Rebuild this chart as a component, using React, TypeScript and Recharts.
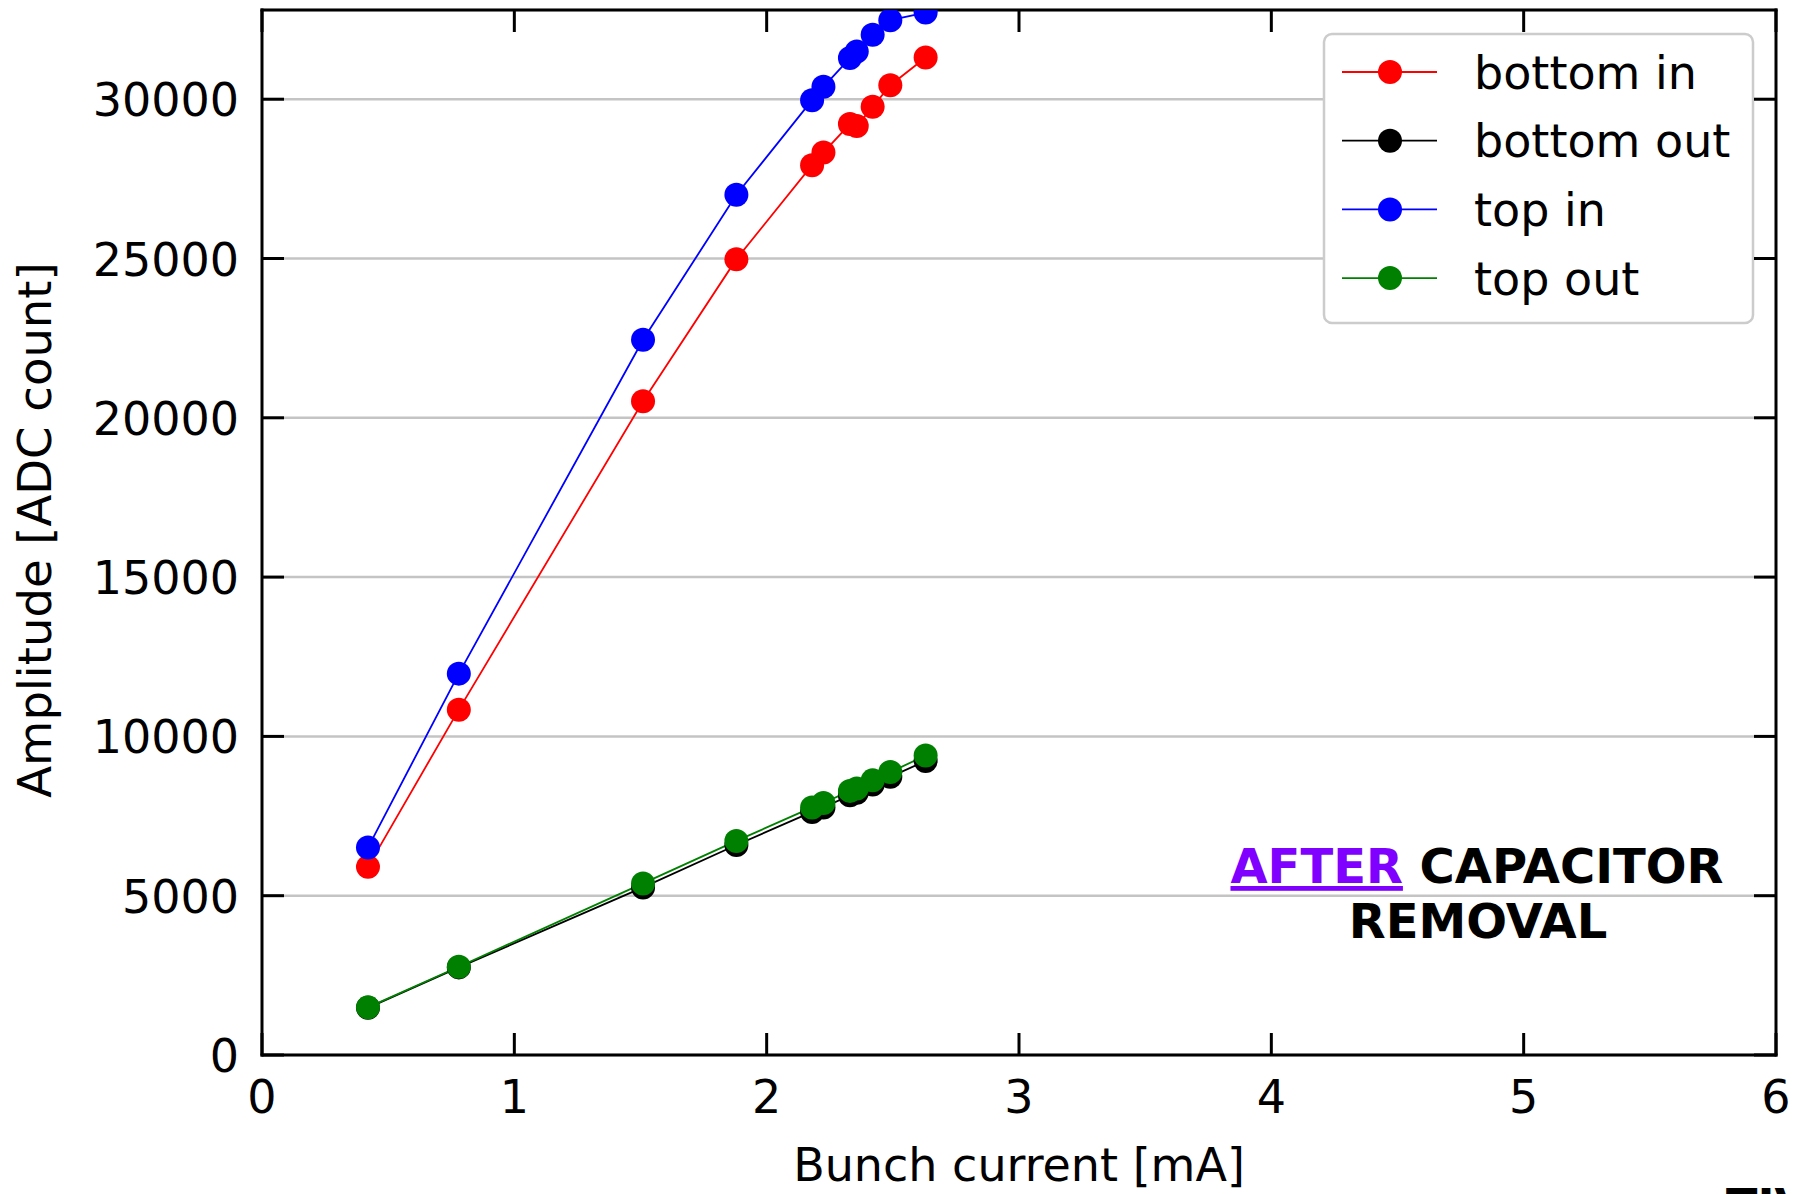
import React from "react";
import {
  LineChart,
  Line,
  XAxis,
  YAxis,
  CartesianGrid,
  Customized,
} from "recharts";

// ---- data ----
const BUNCH_CURRENT = [0.42, 0.78, 1.51, 1.88, 2.18, 2.225, 2.33, 2.357, 2.42, 2.49, 2.63];
const BOTTOM_IN = [5905, 10840, 20520, 24980, 27930, 28330, 29220, 29160, 29760, 30440, 31310];
const BOTTOM_OUT = [1480, 2750, 5260, 6590, 7630, 7770, 8150, 8230, 8490, 8730, 9230];
const TOP_IN = [6510, 11970, 22450, 27000, 29970, 30390, 31290, 31500, 32020, 32480, 32720];
const TOP_OUT = [1495, 2770, 5385, 6720, 7770, 7910, 8290, 8365, 8620, 8880, 9400];

const X_TICKS = [0, 1, 2, 3, 4, 5, 6];
const Y_TICKS = [0, 5000, 10000, 15000, 20000, 25000, 30000];
const X_DOMAIN = [0, 6];
const Y_DOMAIN = [0, 32800];

const SERIES = [
  { key: "bottomIn", name: "bottom in", color: "#ff0000" },
  { key: "bottomOut", name: "bottom out", color: "#000000" },
  { key: "topIn", name: "top in", color: "#0000ff" },
  { key: "topOut", name: "top out", color: "#008000" },
];

const rows = BUNCH_CURRENT.map((x, i) => ({
  x,
  bottomIn: BOTTOM_IN[i],
  bottomOut: BOTTOM_OUT[i],
  topIn: TOP_IN[i],
  topOut: TOP_OUT[i],
}));

const FONT = "DejaVu Sans";
const TICK_LEN = 22;

const LeftTick = (props: any) => {
  const { x, y, payload } = props;
  return (
    <g>
      <line x1={x} y1={y} x2={x + TICK_LEN} y2={y} stroke="#000" strokeWidth={3} />
      <text x={x - 23} y={y} dy={17} textAnchor="end" fontSize={46} fontFamily={FONT} fill="#000">
        {payload.value}
      </text>
    </g>
  );
};

const RightTick = (props: any) => {
  const { x, y } = props;
  return <line x1={x} y1={y} x2={x - TICK_LEN} y2={y} stroke="#000" strokeWidth={3} />;
};

const BottomTick = (props: any) => {
  const { x, y, payload } = props;
  return (
    <g>
      <line x1={x} y1={y} x2={x} y2={y - TICK_LEN} stroke="#000" strokeWidth={3} />
      <text x={x} y={y} dy={58} textAnchor="middle" fontSize={46} fontFamily={FONT} fill="#000">
        {payload.value}
      </text>
    </g>
  );
};

const TopTick = (props: any) => {
  const { x, y } = props;
  return <line x1={x} y1={y} x2={x} y2={y + TICK_LEN} stroke="#000" strokeWidth={3} />;
};

const Overlay = () => {
  const lx = 1324;
  const ly = 34;
  return (
    <g>
      {/* axis titles */}
      <text
        x={51}
        y={530}
        transform="rotate(-90, 51, 530)"
        textAnchor="middle"
        fontSize={46.5}
        fontFamily={FONT}
        fill="#000"
      >
        Amplitude [ADC count]
      </text>
      <text x={1019} y={1181} textAnchor="middle" fontSize={46} fontFamily={FONT} fill="#000">
        Bunch current [mA]
      </text>

      {/* annotation */}
      <text x={1477} y={883} textAnchor="middle" fontSize={48} fontWeight="bold" fontFamily={FONT}>
        <tspan fill="#7f00ff" textDecoration="underline" style={{ textDecoration: "underline" }}>
          AFTER
        </tspan>
        <tspan fill="#000"> CAPACITOR</tspan>
      </text>
      <text x={1478} y={938} textAnchor="middle" fontSize={48} fontWeight="bold" fontFamily={FONT} fill="#000">
        REMOVAL
      </text>

      {/* text cut off at the bottom edge, as in the reference */}
      <text x={1726} y={1222} fontSize={46} fontWeight="bold" fontFamily={FONT} fill="#000">
        TIV
      </text>

      {/* legend */}
      <rect
        x={lx}
        y={ly}
        width={429}
        height={289}
        rx={8}
        ry={8}
        fill="#ffffff"
        stroke="#cccccc"
        strokeWidth={2.5}
      />
      {SERIES.map((s, i) => {
        const cy = ly + 38 + i * 68.7;
        return (
          <g key={s.key}>
            <line x1={lx + 18} y1={cy} x2={lx + 113} y2={cy} stroke={s.color} strokeWidth={1.8} />
            <circle cx={lx + 66} cy={cy} r={12} fill={s.color} />
            <text x={lx + 150} y={cy + 16.5} fontSize={46} fontFamily={FONT} fill="#000">
              {s.name}
            </text>
          </g>
        );
      })}
    </g>
  );
};

export default function App() {
  return (
    <div style={{ position: "absolute", left: 0, top: 0, width: 1794, height: 1194, background: "#fff" }}>
      <LineChart
        width={1794}
        height={1194}
        data={rows}
        margin={{ top: 0, right: 0, bottom: 0, left: 0 }}
      >
        <CartesianGrid
          xAxisId="bottom"
          yAxisId="left"
          vertical={false}
          stroke="#c4c4c4"
          strokeWidth={2.5}
        />
        <XAxis
          xAxisId="bottom"
          dataKey="x"
          type="number"
          domain={X_DOMAIN}
          ticks={X_TICKS}
          interval={0}
          height={139}
          tickSize={0}
          tickMargin={0}
          tickLine={false}
          tick={<BottomTick />}
          axisLine={{ stroke: "#000", strokeWidth: 3, strokeLinecap: "square" }}
          allowDataOverflow
        />
        <XAxis
          xAxisId="top"
          orientation="top"
          dataKey="x"
          type="number"
          domain={X_DOMAIN}
          ticks={X_TICKS}
          interval={0}
          height={10}
          tickSize={0}
          tickMargin={0}
          tickLine={false}
          tick={<TopTick />}
          axisLine={{ stroke: "#000", strokeWidth: 3, strokeLinecap: "square" }}
          allowDataOverflow
        />
        <YAxis
          yAxisId="left"
          type="number"
          domain={Y_DOMAIN}
          ticks={Y_TICKS}
          interval={0}
          width={262}
          tickSize={0}
          tickMargin={0}
          tickLine={false}
          tick={<LeftTick />}
          axisLine={{ stroke: "#000", strokeWidth: 3, strokeLinecap: "square" }}
          allowDataOverflow
        />
        <YAxis
          yAxisId="right"
          orientation="right"
          type="number"
          domain={Y_DOMAIN}
          ticks={Y_TICKS}
          interval={0}
          width={18}
          tickSize={0}
          tickMargin={0}
          tickLine={false}
          tick={<RightTick />}
          axisLine={{ stroke: "#000", strokeWidth: 3, strokeLinecap: "square" }}
          allowDataOverflow
        />
        {SERIES.map((s) => (
          <Line
            key={s.key}
            xAxisId="bottom"
            yAxisId="left"
            type="linear"
            dataKey={s.key}
            name={s.name}
            stroke={s.color}
            strokeWidth={1.8}
            dot={{ r: 12, fill: s.color, stroke: "none", strokeWidth: 0 }}
            activeDot={false}
            isAnimationActive={false}
          />
        ))}
        <Customized component={Overlay} />
      </LineChart>
    </div>
  );
}
